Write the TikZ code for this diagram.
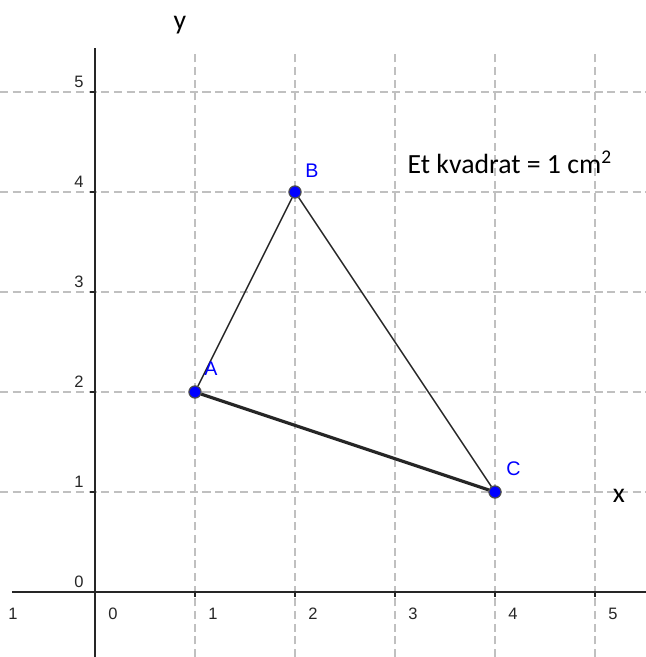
\documentclass[tikz,border=0pt]{standalone}
\usepackage{fontspec}
\setmainfont{Carlito}
\newfontfamily\ggbfont{Liberation Sans}
\usetikzlibrary{positioning, calc}
\definecolor{gridgray}{RGB}{192,192,192}
\definecolor{ptblue}{RGB}{0,0,255}

\begin{document}
\begin{tikzpicture}[
        gridline/.style={gridgray, line width=0.3pt, dash pattern=on 2.3pt off 1.3pt},
        axisline/.style={black!85, line width=0.55pt},
        ticklbl/.style={font=\ggbfont\fontsize{4.7}{5}\selectfont, text=black!85, inner sep=0pt},
        pt/.style={circle, fill=ptblue, draw=black!70, line width=0.3pt, minimum size=0.12cm, inner sep=0pt},
        ptlbl/.style={font=\ggbfont\fontsize{5.6}{6}\selectfont, text=ptblue, inner sep=0pt},
        side/.style={black!85, line width=0.4pt},
        txt/.style={font=\fontsize{7.9}{9}\selectfont, inner sep=0pt}
    ]
        \useasboundingbox (-0.95,-0.65) rectangle (5.51,5.92);

        % Grid
        \foreach \i in {1,...,5} {
            \draw[gridline] (\i,-0.65) -- (\i,5.40);
            \draw[gridline] (-0.95,\i) -- (5.51,\i);
        }

        % Axes
        \draw[axisline] (-0.83,0) -- (5.51,0);
        \draw[axisline] (0,-0.65) -- (0,5.44);
        \foreach \i in {1,...,5} {
            \draw[axisline] (\i,0) -- (\i,-0.05);
            \draw[axisline] (0,\i) -- (-0.05,\i);
        }

        % Tick labels
        \foreach \i in {0,...,5} {
            \node[ticklbl] at (\i+0.18,-0.22) {\i};
            \node[ticklbl] at (-0.16,\i+0.10) {\i};
        }
        \node[ticklbl] at (-0.82,-0.22) {1};

        % Axis names
        \node[txt] (ylbl) at (0.85,5.67) {y};
        \node[txt] (xlbl) at (5.24,0.96) {x};

        % Triangle
        \node[pt] (A) at (1,2) {};
        \node[pt] (B) at (2,4) {};
        \node[pt] (C) at (4,1) {};
        \draw[side] (A) -- (B);
        \draw[side] (B) -- (C);
        \draw[side, line width=0.9pt] (A) -- (C);
        \node[pt] at (A) {};
        \node[pt] at (B) {};
        \node[pt] at (C) {};

        \node[ptlbl, above right=0.11cm and 0.04cm of A] (Albl) {A};
        \node[ptlbl, above right=0.09cm and 0.05cm of B] (Blbl) {B};
        \node[ptlbl, above right=0.11cm and 0.06cm of C] (Clbl) {C};

        % Note
        \node[txt, anchor=west] (note) at (3.12,4.30) {Et kvadrat = 1 cm\textsuperscript{2}};

    \end{tikzpicture}
\end{document}
